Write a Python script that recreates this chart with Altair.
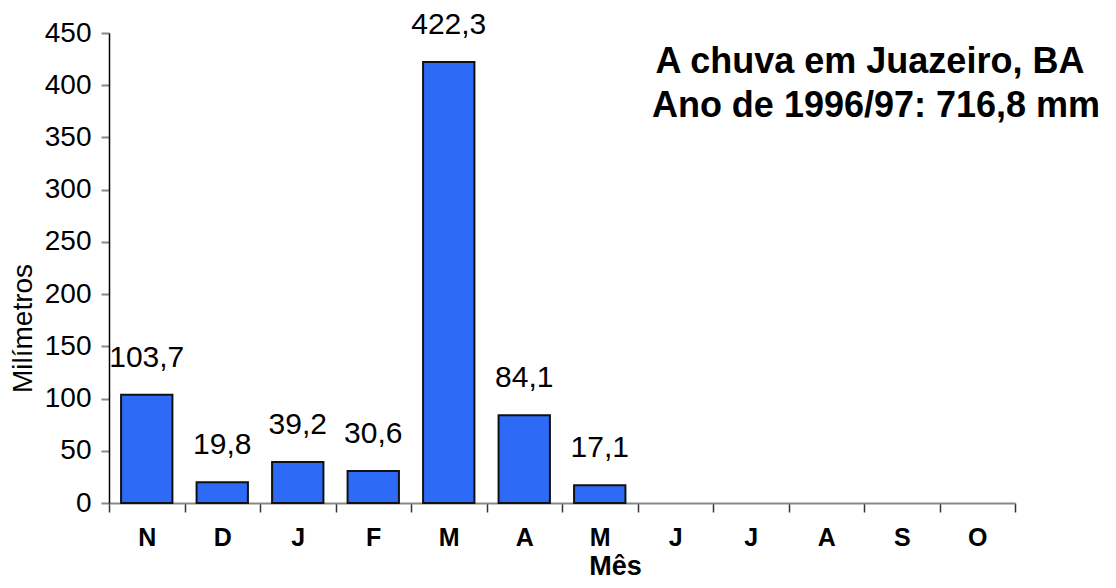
import json
import altair as alt
import pandas as pd

months = ["N", "D", "J", "F", "M", "A", "M", "J", "J", "A", "S", "O"]
rain_mm = [103.7, 19.8, 39.2, 30.6, 422.3, 84.1, 17.1, None, None, None, None, None]
title_line1 = "A chuva em Juazeiro, BA"
title_line2 = "Ano de 1996/97: 716,8 mm"
y_ticks = [0, 50, 100, 150, 200, 250, 300, 350, 400, 450]

df = pd.DataFrame({"idx": list(range(len(months))), "mes": months, "mm": rain_mm})
label_expr = json.dumps(months) + "[datum.value]"

FONT = "Liberation Sans"
W, H = 906, 470

x_enc = alt.X(
    "idx:O",
    scale=alt.Scale(domain=list(range(len(months))), paddingInner=0, paddingOuter=0),
    axis=alt.Axis(
        title="Mês",
        labelExpr=label_expr,
        labelAngle=0,
        labelFont=FONT,
        labelFontSize=25,
        labelFontWeight="bold",
        labelColor="black",
        labelPadding=13,
        tickBand="extent",
        tickSize=9,
        tickColor="#333333",
        tickWidth=1.5,
        domainColor="#888888",
        domainWidth=2,
        titleFont=FONT,
        titleFontSize=27,
        titleFontWeight="bold",
        titleColor="black",
        titleX=506,
        titleY=71,
        titleAlign="center",
        titleBaseline="alphabetic",
    ),
)

y_enc = alt.Y(
    "mm:Q",
    scale=alt.Scale(domain=[0, 450], nice=False),
    axis=alt.Axis(
        title="Milímetros",
        values=y_ticks,
        grid=False,
        labelFont=FONT,
        labelFontSize=28,
        labelColor="black",
        labelPadding=10,
        tickSize=8,
        tickColor="#888888",
        tickWidth=2,
        domainColor="black",
        domainWidth=1.5,
        titleFont=FONT,
        titleFontSize=28,
        titleFontWeight="normal",
        titleColor="black",
        titleX=-86,
        titleY=295,
        titleAlign="center",
        titleBaseline="middle",
        titleAngle=-90,
    ),
)

base = alt.Chart(df)

bars = base.mark_bar(
    color="#2d6bf6", stroke="#111111", strokeWidth=2, width=alt.RelativeBandSize(0.68)
).encode(x=x_enc, y=y_enc)

labels = base.transform_filter("isValid(datum.mm)").transform_calculate(
    lab="replace(format(datum.mm, '.1f'), '.', ',')"
).mark_text(
    font=FONT, fontSize=30, color="black", baseline="bottom", dy=-22
).encode(x=alt.X("idx:O"), y=alt.Y("mm:Q"), text="lab:N")

t1 = alt.Chart(pd.DataFrame({"t": [title_line1]})).mark_text(
    font=FONT, fontSize=36, fontWeight="bold", color="black", align="center", baseline="alphabetic"
).encode(text="t:N", x=alt.value(761), y=alt.value(40))

t2 = alt.Chart(pd.DataFrame({"t": [title_line2]})).mark_text(
    font=FONT, fontSize=36, fontWeight="bold", color="black", align="center", baseline="alphabetic"
).encode(text="t:N", x=alt.value(767), y=alt.value(84))

chart = alt.layer(bars, labels, t1, t2).properties(
    width=W,
    height=H,
    autosize=alt.AutoSizeParams(type="none"),
    padding={"left": 101, "top": 25, "right": 93, "bottom": 77},
).configure(background="white").configure_view(stroke=None, strokeWidth=0)

chart.save("out.html", embed_options={"renderer": "svg", "actions": False})
